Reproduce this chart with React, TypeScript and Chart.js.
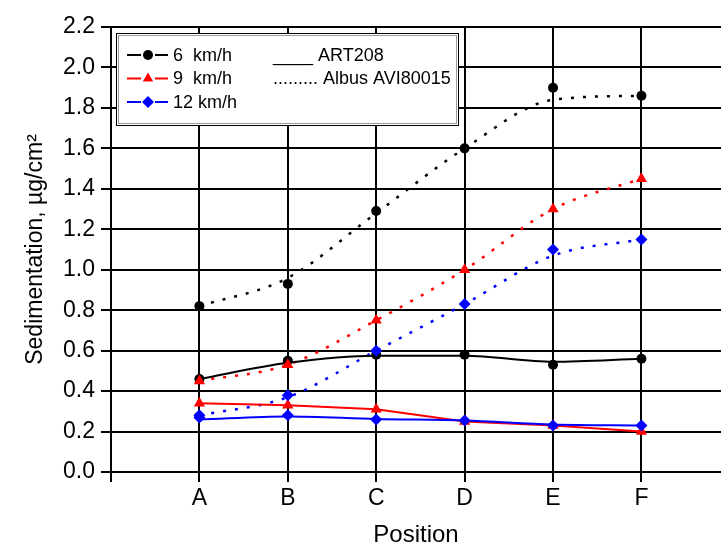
import React, { useEffect, useRef } from "react";
import { Chart, registerables } from "chart.js";

Chart.register(...registerables);

const categories = ["A", "B", "C", "D", "E", "F"];
const yTicks = [0, 0.2, 0.4, 0.6, 0.8, 1.0, 1.2, 1.4, 1.6, 1.8, 2.0, 2.2];

// ART208 (solid) markers
const art6 = [0.46, 0.55, 0.58, 0.58, 0.53, 0.56];
const art9 = [0.34, 0.33, 0.31, 0.25, 0.23, 0.2];
const art12 = [0.27, 0.28, 0.26, 0.255, 0.23, 0.23];
// ART208 smoothed curves as drawn
const art6Curve = [0.46, 0.54, 0.575, 0.575, 0.545, 0.56];
const art12Curve = [0.26, 0.275, 0.262, 0.255, 0.235, 0.23];

// Albus AVI80015 (dotted) markers
const albus6 = [0.82, 0.93, 1.29, 1.6, 1.9, 1.86];
const albus9 = [0.45, 0.53, 0.75, 1.0, 1.3, 1.45];
const albus12 = [0.28, 0.38, 0.6, 0.83, 1.1, 1.15];
// Albus smoothed curves as drawn
const albus6Curve = [0.82, 0.96, 1.28, 1.6, 1.84, 1.86];
const albus12Curve = [0.28, 0.37, 0.6, 0.83, 1.07, 1.15];

const FONT = "'Liberation Sans', Arial, Helvetica, sans-serif";
const BLACK = "#000000";
const RED = "#ff0000";
const BLUE = "#0000ff";

const pts = (arr: number[]) => categories.map((_, i) => ({ x: i + 1, y: arr[i] }));

function drawMarker(ctx: CanvasRenderingContext2D, style: string, x: number, y: number, color: string) {
  ctx.fillStyle = color;
  ctx.beginPath();
  if (style === "circle") {
    ctx.arc(x, y, 5, 0, Math.PI * 2);
  } else if (style === "triangle") {
    const r = 6;
    ctx.moveTo(x, y - r);
    ctx.lineTo(x + r * 0.866, y + r * 0.5);
    ctx.lineTo(x - r * 0.866, y + r * 0.5);
    ctx.closePath();
  } else {
    const r = 6;
    ctx.moveTo(x, y - r);
    ctx.lineTo(x + r, y);
    ctx.lineTo(x, y + r);
    ctx.lineTo(x - r, y);
    ctx.closePath();
  }
  ctx.fill();
}

const legendPlugin = {
  id: "boxLegend",
  afterDraw(chart: any) {
    const ctx: CanvasRenderingContext2D = chart.ctx;
    const { left, top } = chart.chartArea;
    const bx = left + 5;
    const by = top + 6;
    const bw = 343;
    const bh = 93;
    ctx.save();
    ctx.fillStyle = "#ffffff";
    ctx.fillRect(bx, by, bw, bh);
    ctx.lineWidth = 1;
    ctx.strokeStyle = "#000000";
    ctx.strokeRect(bx + 0.5, by + 0.5, bw - 1, bh - 1);
    ctx.strokeStyle = "#9a9a9a";
    ctx.strokeRect(bx + 2.5, by + 2.5, bw - 5, bh - 5);

    ctx.font = `18px ${FONT}`;
    ctx.textBaseline = "middle";
    ctx.textAlign = "left";
    const rows = [
      { label: "6  km/h", color: BLACK, marker: "circle" },
      { label: "9  km/h", color: RED, marker: "triangle" },
      { label: "12 km/h", color: BLUE, marker: "rectRot" },
    ];
    rows.forEach((r, i) => {
      const y = top + 28 + i * 23.5;
      const x0 = left + 16;
      ctx.strokeStyle = r.color;
      ctx.lineWidth = 2;
      ctx.beginPath();
      ctx.moveTo(x0, y);
      ctx.lineTo(x0 + 14, y);
      ctx.moveTo(x0 + 28, y);
      ctx.lineTo(x0 + 41, y);
      ctx.stroke();
      drawMarker(ctx, r.marker, x0 + 21, y, r.color);
      ctx.fillStyle = BLACK;
      ctx.fillText(r.label, left + 62, y + 1);
    });
    ctx.fillStyle = BLACK;
    ctx.fillText("____ ART208", left + 162, top + 29);
    ctx.fillText("......... Albus AVI80015", left + 162, top + 52.5);
    ctx.restore();
  },
};

export default function App() {
  const ref = useRef<HTMLCanvasElement | null>(null);

  useEffect(() => {
    if (!ref.current) return;
    const solid = (label: string, data: number[], color: string, smooth: boolean) => ({
      label,
      data: pts(data),
      borderColor: color,
      backgroundColor: color,
      borderWidth: 2,
      pointRadius: 0,
      showLine: true,
      tension: smooth ? 0.4 : 0,
      cubicInterpolationMode: smooth ? "monotone" : "default",
    });
    const dotted = (label: string, data: number[], color: string) => ({
      label,
      data: pts(data),
      borderColor: color,
      backgroundColor: color,
      borderWidth: 2.5,
      borderDash: [3, 9],
      pointRadius: 0,
      showLine: true,
      tension: 0.4,
      cubicInterpolationMode: "monotone",
    });
    const markers = (label: string, data: number[], color: string, style: string, radius: number) => ({
      label,
      data: pts(data),
      showLine: false,
      pointStyle: style,
      pointRadius: radius,
      pointBackgroundColor: color,
      pointBorderColor: color,
      pointBorderWidth: 0,
    });

    const list: any[] = [
      dotted("6 km/h Albus AVI80015", albus6Curve, BLACK),
      dotted("9 km/h Albus AVI80015", albus9, RED),
      dotted("12 km/h Albus AVI80015", albus12Curve, BLUE),
      solid("6 km/h ART208", art6Curve, BLACK, true),
      solid("9 km/h ART208", art9, RED, false),
      solid("12 km/h ART208", art12Curve, BLUE, true),
      markers("6 km/h Albus pts", albus6, BLACK, "circle", 5),
      markers("6 km/h ART pts", art6, BLACK, "circle", 5),
      markers("9 km/h Albus pts", albus9, RED, "triangle", 6.5),
      markers("9 km/h ART pts", art9, RED, "triangle", 6.5),
      markers("12 km/h Albus pts", albus12, BLUE, "rectRot", 6),
      markers("12 km/h ART pts", art12, BLUE, "rectRot", 6),
    ];
    list.forEach((d, i) => (d.order = list.length - i));

    const chart = new Chart(ref.current, {
      type: "scatter",
      data: { datasets: list },
      options: {
        responsive: false,
        animation: false,
        layout: { autoPadding: false, padding: { top: 27, right: 0, bottom: 0, left: 0 } },
        plugins: {
          legend: { display: false },
          tooltip: { enabled: false },
          title: { display: false },
        },
        scales: {
          x: {
            type: "linear",
            min: 0,
            max: 6.9,
            afterBuildTicks: (s: any) => {
              s.ticks = [0, ...categories.map((_, i) => i + 1)].map((v) => ({ value: v }));
            },
            afterFit: (s: any) => {
              s.height = 78;
              s.paddingRight = 0;
              s.paddingLeft = 0;
            },
            ticks: {
              autoSkip: false,
              maxRotation: 0,
              padding: 3,
              color: BLACK,
              font: { family: FONT, size: 23 },
              callback: (v: any) => (v >= 1 && v <= categories.length ? categories[v - 1] : ""),
            },
            grid: { color: BLACK, lineWidth: 2, tickLength: 10, drawTicks: true },
            border: { display: true, color: BLACK, width: 2 },
            title: {
              display: true,
              text: "Position",
              color: BLACK,
              font: { family: FONT, size: 24 },
              padding: { top: 0, bottom: 0 },
            },
          },
          y: {
            min: 0,
            max: 2.2,
            afterBuildTicks: (s: any) => {
              s.ticks = yTicks.map((v) => ({ value: v }));
            },
            afterFit: (s: any) => {
              s.width = 111;
            },
            ticks: {
              padding: 6,
              color: BLACK,
              font: { family: FONT, size: 23 },
              callback: (v: any) => Number(v).toFixed(1),
            },
            grid: { color: BLACK, lineWidth: 2, tickLength: 10, drawTicks: true },
            border: { display: true, color: BLACK, width: 2 },
            title: {
              display: true,
              text: "Sedimentation, µg/cm²",
              color: BLACK,
              font: { family: FONT, size: 23 },
              padding: { top: 22, bottom: 0 },
            },
          },
        },
      } as any,
      plugins: [legendPlugin],
    });
    return () => chart.destroy();
  }, []);

  return (
    <div style={{ position: "fixed", left: 0, top: 0, width: 721, height: 550, background: "#fff" }}>
      <canvas ref={ref} width={721} height={550} style={{ display: "block" }} />
    </div>
  );
}
